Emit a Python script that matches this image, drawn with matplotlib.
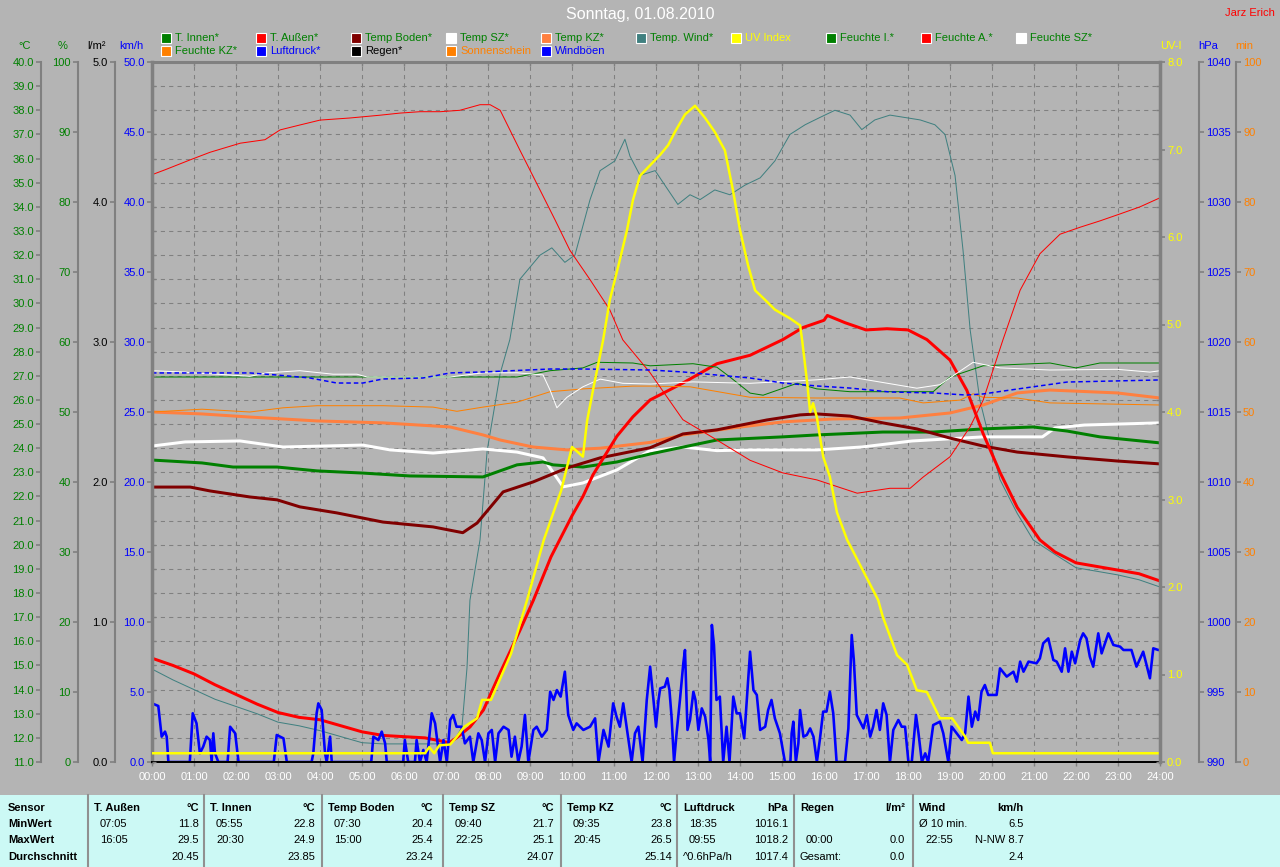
import matplotlib
matplotlib.use("Agg")
import matplotlib.pyplot as plt
from matplotlib.patches import Rectangle
import numpy as np

plt.rcParams['font.family'] = ['Liberation Sans', 'DejaVu Sans']

# ------------------------------------------------------------------ data
TITLE = "Sonntag, 01.08.2010"
AUTHOR = "Jarz Erich"
HOUR_TICKS = list(range(0, 25))
HOUR_LABELS = ["%02d:00" % h for h in HOUR_TICKS]

# °C series (time in hours, value)
T_AUSSEN = [(0, 15.3), (0.5, 15.0), (1, 14.65), (1.5, 14.2), (2, 13.8), (2.5, 13.4), (3, 13.05), (3.5, 12.85),
            (4, 12.75), (4.5, 12.5), (5, 12.25), (5.5, 12.1), (6, 12.05), (6.5, 12.0), (7.08, 11.8), (7.25, 12.0),
            (7.57, 12.45), (7.89, 13.15), (8.29, 14.7), (8.76, 16.45), (9.08, 17.7), (9.5, 19.5), (10.0, 21.2),
            (10.26, 22.0), (10.5, 22.9), (11.07, 24.5), (11.45, 25.3), (11.86, 26.0), (12.64, 26.7), (13.45, 27.5),
            (14.24, 27.85), (15.02, 28.5), (15.5, 29.0), (16.0, 29.3), (16.08, 29.5), (16.5, 29.2), (17.0, 28.9),
            (17.5, 28.95), (18.0, 28.9), (18.45, 28.5), (19.0, 27.65), (19.4, 26.4), (19.79, 24.6), (20.19, 23.0),
            (20.6, 21.55), (21.14, 20.2), (21.5, 19.7), (22.0, 19.25), (22.5, 19.1), (23.0, 18.95), (23.5, 18.8),
            (24.0, 18.5)]
TEMP_WIND = [(0, 14.85), (0.5, 14.4), (1, 14.0), (1.5, 13.6), (2, 13.3), (2.5, 13.0), (3, 12.65), (3.5, 12.5),
             (4, 12.3), (4.5, 12.05), (5, 11.8), (5.5, 11.75), (6, 11.75), (6.5, 11.75), (7.0, 11.75), (7.2, 11.9),
             (7.38, 12.45), (7.5, 14.9), (7.57, 17.7), (7.81, 20.2), (7.98, 23.9), (8.29, 27.1), (8.52, 28.5),
             (8.76, 31.0), (9.24, 32.0), (9.52, 32.3), (9.83, 31.7), (10.07, 32.0), (10.43, 34.3), (10.67, 35.5),
             (11.02, 35.9), (11.26, 36.8), (11.38, 36.1), (11.62, 35.3), (11.98, 35.5), (12.21, 34.9), (12.52, 34.1),
             (12.81, 34.5), (13.05, 34.3), (13.4, 34.7), (13.76, 34.5), (14.12, 34.9), (14.48, 35.2), (14.83, 35.9),
             (15.19, 37.0), (15.55, 37.4), (15.9, 37.7), (16.26, 38.0), (16.62, 37.8), (16.9, 37.2), (17.21, 37.6),
             (17.57, 37.8), (17.93, 37.7), (18.29, 37.6), (18.64, 37.4), (18.88, 37.0), (19.12, 35.3), (19.31, 32.2),
             (19.48, 28.9), (19.71, 26.0), (19.95, 24.3), (20.19, 22.7), (20.6, 21.3), (20.98, 20.2), (21.5, 19.6),
             (22.0, 19.05), (22.5, 18.9), (23.0, 18.75), (23.5, 18.55), (24.0, 18.25)]
TEMP_SZ = [(0, 24.09), (0.79, 24.26), (2.1, 24.3), (3.12, 24.05), (5.02, 24.13), (5.67, 23.93), (6.69, 23.8),
           (7.88, 23.97), (8.69, 23.84), (9.31, 23.6), (9.79, 22.4), (10.26, 22.56), (11.07, 23.1), (11.86, 23.9),
           (12.64, 24.05), (13.45, 23.9), (14.24, 23.93), (15.83, 23.93), (16.9, 24.05), (18.1, 24.3),
           (19.79, 24.47), (21.2, 24.47), (21.5, 24.84), (22.2, 24.96), (23.0, 25.0), (24.0, 25.05)]
T_INNEN = [(0, 23.51), (1.19, 23.39), (1.93, 23.22), (2.98, 23.22), (3.93, 23.06), (5.02, 22.97), (6.14, 22.85),
           (7.88, 22.81), (8.69, 23.31), (9.31, 23.43), (9.55, 23.31), (10.26, 23.22), (11.07, 23.43),
           (11.86, 23.76), (13.45, 24.34), (15.02, 24.47), (15.83, 24.55), (17.4, 24.67), (18.6, 24.67),
           (19.79, 24.8), (20.98, 24.88), (21.79, 24.71), (22.57, 24.47), (24.0, 24.22)]
TEMP_BODEN = [(0, 22.39), (0.91, 22.39), (1.38, 22.23), (2.33, 21.98), (2.98, 21.86), (3.52, 21.57), (4.4, 21.32),
              (5.5, 20.94), (6.69, 20.74), (7.4, 20.5), (7.74, 20.9), (8.36, 22.19), (9.07, 22.6), (9.88, 23.18),
              (10.67, 23.6), (11.86, 24.02), (12.64, 24.59), (13.45, 24.76), (14.64, 25.17), (15.43, 25.38),
              (15.83, 25.42), (16.62, 25.33), (17.4, 25.05), (18.21, 24.8), (19.0, 24.42), (19.79, 24.09),
              (20.6, 23.84), (21.79, 23.64), (22.98, 23.47), (24.0, 23.35)]
TEMP_KZ = [(0, 25.5), (1.19, 25.42), (2.33, 25.29), (3.93, 25.13), (5.5, 25.05), (7.1, 24.88), (7.88, 24.55),
           (8.29, 24.34), (9.07, 24.05), (9.88, 23.93), (10.67, 24.0), (11.86, 24.24), (12.64, 24.55),
           (13.83, 24.84), (15.02, 25.09), (16.21, 25.21), (17.8, 25.25), (19.0, 25.46), (19.79, 25.79),
           (20.6, 26.29), (21.38, 26.41), (22.98, 26.29), (24.0, 26.08)]

# % series
FEUCHTE_A = [(0, 83.9), (0.31, 84.6), (0.9, 86.0), (1.38, 87.1), (2.1, 88.4), (2.69, 88.9), (3.05, 90.3),
             (3.52, 91.0), (4.0, 91.7), (4.71, 92.0), (5.43, 92.4), (5.9, 92.7), (6.38, 92.9), (6.86, 92.9),
             (7.33, 93.1), (7.81, 93.9), (8.05, 93.9), (8.29, 93.1), (8.76, 87.4), (9.24, 81.7), (9.6, 77.4),
             (9.95, 73.1), (10.43, 68.9), (10.9, 64.6), (11.21, 60.3), (11.86, 55.6), (12.64, 48.9), (13.45, 46.0),
             (14.24, 43.1), (15.02, 41.3), (15.83, 40.3), (16.79, 38.4), (17.57, 39.1), (18.05, 39.1),
             (18.36, 40.7), (19.0, 43.6), (19.48, 47.9), (19.79, 51.7), (20.26, 60.3), (20.67, 67.4),
             (21.14, 72.6), (21.62, 75.4), (22.1, 76.4), (22.57, 77.3), (23.05, 78.3), (23.52, 79.3), (24.0, 80.6)]
FEUCHTE_KZ = [(0, 50.0), (1.19, 50.4), (2.33, 50.0), (3.12, 50.6), (3.93, 50.9), (5.5, 50.9), (6.69, 50.7),
              (7.26, 50.1), (7.88, 50.7), (8.69, 51.4), (9.48, 52.9), (10.26, 53.3), (11.45, 53.7), (11.86, 53.7),
              (12.81, 53.6), (14.24, 52.1), (15.83, 52.0), (17.8, 52.0), (18.36, 51.3), (19.24, 51.7),
              (19.55, 52.6), (19.79, 52.1), (20.6, 52.0), (21.38, 51.3), (24.0, 51.0)]
FEUCHTE_I = [(0, 55.0), (8.69, 55.0), (9.48, 55.9), (10.26, 56.3), (10.6, 57.1), (11.45, 57.0), (11.86, 56.6),
             (12.88, 56.9), (13.45, 56.4), (13.76, 55.0), (14.24, 52.7), (14.55, 52.4), (15.36, 54.1),
             (15.83, 53.3), (16.62, 52.9), (18.6, 52.9), (19.0, 55.0), (19.79, 56.6), (21.38, 57.0), (22.0, 56.3),
             (22.57, 57.0), (24.0, 57.0)]
FEUCHTE_SZ = [(0, 55.9), (0.79, 55.7), (0.95, 55.6), (1.55, 55.4), (2.33, 55.1), (2.74, 55.6), (3.52, 55.9),
              (4.31, 55.4), (4.88, 55.4), (5.12, 55.0), (7.1, 55.0), (7.88, 55.6), (8.69, 55.6), (9.31, 55.3),
              (9.48, 53.1), (9.64, 50.6), (9.88, 52.1), (10.26, 53.6), (10.67, 54.7), (11.21, 54.1), (11.86, 54.0),
              (12.88, 54.3), (14.24, 54.1), (15.83, 54.6), (16.62, 55.0), (18.21, 53.4), (18.76, 53.9),
              (19.55, 57.1), (20.19, 56.3), (21.38, 56.0), (22.98, 56.1), (23.76, 55.7), (24.0, 55.9)]

# hPa
LUFTDRUCK = [(0, 1017.79), (1.55, 1017.79), (2.33, 1017.79), (2.98, 1017.64), (3.76, 1017.43), (4.4, 1017.07),
             (5.02, 1017.07), (5.5, 1017.36), (6.45, 1017.43), (7.1, 1017.79), (7.88, 1017.86), (9.48, 1018.07),
             (10.26, 1018.07), (11.86, 1018.0), (12.64, 1017.86), (13.45, 1017.64), (14.24, 1017.43),
             (15.02, 1017.07), (15.83, 1016.86), (16.62, 1016.71), (17.57, 1016.43), (18.6, 1016.36),
             (19.4, 1016.21), (19.79, 1016.29), (20.6, 1016.64), (21.79, 1017.14), (24.0, 1017.29)]

# UV index
UV_INDEX = [(0, 0.1), (6.5, 0.1), (6.6, 0.17), (6.72, 0.1), (6.84, 0.19), (7.1, 0.2), (7.26, 0.29), (7.43, 0.4),
            (7.74, 0.5), (7.86, 0.71), (8.07, 0.71), (8.55, 1.24), (8.93, 1.85), (9.33, 2.54), (9.74, 3.1),
            (10.0, 3.6), (10.26, 3.49), (10.36, 3.9), (10.5, 4.25), (10.74, 4.82), (10.9, 5.28), (11.14, 5.74),
            (11.31, 6.08), (11.45, 6.42), (11.62, 6.7), (11.86, 6.82), (12.1, 6.94), (12.29, 7.05), (12.45, 7.2),
            (12.69, 7.4), (12.93, 7.5), (13.17, 7.36), (13.4, 7.2), (13.64, 6.99), (13.83, 6.54), (14.0, 6.08),
            (14.19, 5.68), (14.36, 5.39), (14.6, 5.28), (14.83, 5.17), (15.19, 5.07), (15.43, 4.99), (15.48, 4.82),
            (15.6, 4.33), (15.67, 4.0), (15.74, 4.1), (15.83, 3.94), (15.98, 3.49), (16.14, 3.26), (16.31, 2.85),
            (16.55, 2.54), (17.29, 1.85), (17.4, 1.66), (17.74, 1.22), (17.98, 1.11), (18.21, 0.82), (18.45, 0.8),
            (18.76, 0.5), (19.05, 0.5), (19.36, 0.29), (19.43, 0.22), (19.95, 0.22), (20.02, 0.1), (24.0, 0.1)]

# km/h (gusts)
WINDBOEEN = [(0, 4.19), (0.15, 4.0), (0.23, 1.81), (0.31, 2.17), (0.35, 1.81), (0.39, 0), (0.9, 0), (0.97, 3.48),
             (1.06, 2.76), (1.14, 0.62), (1.22, 1.1), (1.3, 1.81), (1.38, 1.57), (1.42, 0), (1.46, 2.05),
             (1.5, 0.62), (1.58, 0), (1.8, 0), (1.86, 2.52), (1.98, 2.05), (2.06, 0), (2.9, 0), (2.97, 1.93),
             (3.13, 1.69), (3.21, 0), (3.8, 0), (3.84, 0.62), (3.92, 3.48), (3.96, 4.19), (4.04, 3.71), (4.12, 0.62),
             (4.16, 0), (4.24, 1.81), (4.28, 0), (5.22, 0), (5.27, 1.81), (5.39, 1.57), (5.47, 2.17), (5.55, 1.33),
             (5.59, 0), (5.98, 0), (6.02, 1.57), (6.1, 0), (6.26, 0), (6.3, 1.57), (6.38, 0), (6.46, 0.86),
             (6.54, 0), (6.66, 3.48), (6.74, 2.76), (6.78, 1.81), (6.86, 0), (6.94, 1.57), (7.02, 0), (7.1, 3.0),
             (7.17, 3.36), (7.25, 2.52), (7.37, 2.52), (7.45, 1.33), (7.57, 1.81), (7.65, 0), (7.77, 2.05),
             (7.85, 1.57), (7.93, 0), (8.01, 2.05), (8.09, 2.29), (8.17, 0), (8.25, 2.05), (8.37, 2.52),
             (8.49, 2.29), (8.56, 0.38), (8.64, 1.81), (8.72, 0), (8.8, 1.1), (8.88, 3.36), (8.96, 0), (9.08, 2.29),
             (9.16, 2.52), (9.28, 1.81), (9.4, 2.29), (9.48, 5.02), (9.56, 4.43), (9.64, 5.14), (9.73, 4.67),
             (9.83, 6.45), (9.91, 3.36), (10.03, 2.29), (10.11, 2.76), (10.27, 2.29), (10.43, 2.52), (10.55, 3.12),
             (10.63, 0), (10.75, 2.29), (10.87, 1.1), (10.98, 4.19), (11.06, 3.24), (11.14, 2.52), (11.22, 4.19),
             (11.3, 2.52), (11.42, 0), (11.5, 2.05), (11.58, 2.52), (11.68, 0), (11.78, 4.43), (11.86, 6.81),
             (11.94, 4.43), (12.0, 2.52), (12.06, 4.43), (12.1, 5.26), (12.21, 5.38), (12.27, 5.98), (12.32, 5.14),
             (12.37, 3.24), (12.43, 0), (12.49, 2.05), (12.57, 4.43), (12.65, 7.05), (12.69, 8.0), (12.75, 2.29),
             (12.81, 3.0), (12.89, 5.02), (12.94, 4.43), (13.01, 2.29), (13.09, 3.83), (13.17, 3.24), (13.25, 1.57),
             (13.29, 0), (13.33, 9.79), (13.38, 8.36), (13.44, 4.43), (13.52, 4.67), (13.6, 0), (13.68, 2.52),
             (13.75, 0), (13.84, 4.67), (13.92, 3.48), (14.0, 3.48), (14.1, 1.69), (14.24, 7.88), (14.32, 5.14),
             (14.4, 4.79), (14.48, 2.29), (14.6, 2.52), (14.67, 3.71), (14.75, 4.43), (14.83, 3.12), (14.95, 2.05),
             (15.07, 0), (15.2, 0), (15.23, 2.05), (15.27, 2.88), (15.33, 0), (15.39, 1.33), (15.43, 3.71),
             (15.51, 1.81), (15.59, 1.93), (15.67, 2.4), (15.75, 1.81), (15.83, 0), (15.9, 1.57), (15.98, 3.6),
             (16.06, 3.6), (16.14, 5.02), (16.22, 3.48), (16.3, 0), (16.5, 0), (16.58, 2.4), (16.66, 9.07),
             (16.71, 7.29), (16.78, 3.36), (16.94, 2.4), (17.02, 3.36), (17.1, 1.81), (17.17, 2.52), (17.25, 3.71),
             (17.33, 2.29), (17.41, 4.19), (17.49, 3.36), (17.57, 0), (17.65, 2.29), (17.77, 3.0), (17.85, 2.52),
             (17.93, 2.52), (18.01, 0), (18.09, 0), (18.19, 3.36), (18.25, 2.05), (18.33, 0), (18.41, 0.62),
             (18.48, 0), (18.6, 2.64), (18.76, 2.88), (18.84, 2.05), (18.96, 0), (19.04, 2.52), (19.16, 2.05),
             (19.28, 1.57), (19.36, 2.05), (19.44, 4.67), (19.52, 2.52), (19.6, 3.6), (19.67, 3.0), (19.75, 5.02),
             (19.83, 5.5), (19.91, 4.79), (20.11, 4.79), (20.19, 6.69), (20.35, 6.1), (20.51, 6.45), (20.59, 5.74),
             (20.67, 7.17), (20.75, 6.45), (20.87, 7.17), (21.06, 7.05), (21.14, 7.4), (21.22, 8.48), (21.34, 8.83),
             (21.46, 7.29), (21.54, 7.17), (21.66, 6.45), (21.74, 8.12), (21.82, 6.45), (21.9, 7.88), (21.98, 7.05),
             (22.1, 8.71), (22.17, 9.19), (22.25, 8.83), (22.33, 7.52), (22.41, 6.81), (22.53, 9.19), (22.61, 7.76),
             (22.77, 9.19), (22.89, 8.36), (23.05, 8.24), (23.13, 8.0), (23.32, 8.0), (23.44, 6.81), (23.6, 7.88),
             (23.76, 5.98), (23.84, 8.12), (23.96, 8.0), (24.0, 8.0)]

REGEN = [(0, 0.0), (24, 0.0)]
SONNENSCHEIN = [(0, 0.0), (24, 0.0)]

# legend entries: (label, square colour, text colour)
LEGEND_ROW1 = [("T. Innen*", "#008000", "#008000"), ("T. Außen*", "#FF0000", "#008000"),
               ("Temp Boden*", "#800000", "#008000"), ("Temp SZ*", "#FFFFFF", "#008000"),
               ("Temp KZ*", "#FF8040", "#008000"), ("Temp. Wind*", "#408080", "#008000"),
               ("UV Index", "#FFFF00", "#FFFF00"), ("Feuchte I.*", "#008000", "#008000"),
               ("Feuchte A.*", "#FF0000", "#008000"), ("Feuchte SZ*", "#FFFFFF", "#008000")]
LEGEND_ROW2 = [("Feuchte KZ*", "#FF8000", "#008000"), ("Luftdruck*", "#0000FF", "#0000FF"),
               ("Regen*", "#000000", "#000000"), ("Sonnenschein", "#FF8000", "#FF8000"),
               ("Windböen", "#0000FF", "#0000FF")]

# statistics table
TABLE_ROW_LABELS = ["Sensor", "MinWert", "MaxWert", "Durchschnitt"]
TABLE_HEADERS = [("T. Außen", "°C"), ("T. Innen", "°C"), ("Temp Boden", "°C"), ("Temp SZ", "°C"),
                 ("Temp KZ", "°C"), ("Luftdruck", "hPa"), ("Regen", "l/m²"), ("Wind", "km/h")]
TABLE_CELLS = [
    [("07:05", "11.8"), ("16:05", "29.5"), ("", "20.45")],
    [("05:55", "22.8"), ("20:30", "24.9"), ("", "23.85")],
    [("07:30", "20.4"), ("15:00", "25.4"), ("", "23.24")],
    [("09:40", "21.7"), ("22:25", "25.1"), ("", "24.07")],
    [("09:35", "23.8"), ("20:45", "26.5"), ("", "25.14")],
    [("18:35", "1016.1"), ("09:55", "1018.2"), ("^0.6hPa/h", "1017.4")],
    [("", ""), ("00:00", "0.0"), ("Gesamt:", "0.0")],
    [("Ø 10 min.", "6.5"), ("22:55", "N-NW 8.7"), ("", "2.4")],
]

# ------------------------------------------------------------------ style
BG = "#B4B4B4"
GRAY = "#808080"
GREEN = "#008000"
BLUE = "#0000FF"
YELLOW = "#FFFF00"
ORANGE = "#FF8000"
RED = "#FF0000"
W, H = 1280, 867
PL, PR, PT, PB = 152, 1160, 62, 762
RECT = [PL / W, 1 - PB / H, (PR - PL) / W, (PB - PT) / H]
PX = 0.72  # points per pixel at 100 dpi


def xy(series):
    t, v = zip(*series)
    return np.array(t), np.array(v)


fig = plt.figure(figsize=(W / 100, H / 100), dpi=100, facecolor=BG)

# main °C axis
ax = fig.add_axes(RECT, facecolor=BG)
ax.set_xlim(0, 24)


def style_y(a, side, pos, lim, ticks, fmt, color):
    a.set_ylim(*lim)
    for s in a.spines.values():
        s.set_visible(False)
    sp = a.spines[side]
    sp.set_visible(True)
    sp.set_position(("axes", pos))
    sp.set_color(GRAY)
    sp.set_linewidth(1.5)
    a.yaxis.set_ticks_position(side)
    a.set_yticks(ticks)
    a.set_yticklabels([fmt % t for t in ticks])
    a.tick_params(axis="y", direction="out", length=5 * PX, width=1.2, color=GRAY,
                  labelcolor=color, labelsize=8, pad=1.5)


style_y(ax, "left", (41 - PL) / (PR - PL), (11, 40), np.arange(11, 41, 1), "%.1f", GREEN)
ax.set_xticks(HOUR_TICKS)
ax.set_xticklabels(HOUR_LABELS)
ax.tick_params(axis="x", direction="out", length=4 * PX, width=1, color=GRAY, labelcolor="white",
               labelsize=8, pad=4.5)
ax.grid(True, color=GRAY, linestyle=(0, (4, 4)), linewidth=0.75)
ax.set_axisbelow(True)

THICK = 3 * PX
THIN = 1 * PX
for series, col, lw in [(TEMP_WIND, "#408080", THIN), (TEMP_KZ, "#FF8040", THICK),
                        (TEMP_SZ, "#FFFFFF", THICK), (T_INNEN, "#008000", THICK),
                        (TEMP_BODEN, "#800000", THICK), (T_AUSSEN, RED, THICK)]:
    t, v = xy(series)
    ax.plot(t, v, color=col, lw=lw)

# humidity %
ax_p = ax.twinx()
style_y(ax_p, "left", (78 - PL) / (PR - PL), (0, 100), np.arange(0, 101, 10), "%d", GREEN)
for series, col in [(FEUCHTE_KZ, ORANGE), (FEUCHTE_I, GREEN), (FEUCHTE_SZ, "#FFFFFF"), (FEUCHTE_A, RED)]:
    t, v = xy(series)
    ax_p.plot(t, v, color=col, lw=THIN)

# pressure hPa
ax_h = ax.twinx()
style_y(ax_h, "right", (1199 - PL) / (PR - PL), (990, 1040), np.arange(990, 1041, 5), "%d", BLUE)
t, v = xy(LUFTDRUCK)
ax_h.plot(t, v, color=BLUE, lw=1.5 * PX, linestyle=(0, (3, 2)))

# sunshine min
ax_m = ax.twinx()
style_y(ax_m, "right", (1236 - PL) / (PR - PL), (0, 100), np.arange(0, 101, 10), "%d", ORANGE)
t, v = xy(SONNENSCHEIN)
ax_m.plot(t, v, color=ORANGE, lw=THIN, clip_on=False)

# gusts km/h
ax_k = ax.twinx()
style_y(ax_k, "left", 0.0, (0, 50), np.arange(0, 51, 5), "%.1f", BLUE)
ax_k.spines["left"].set_linewidth(2.5)
t, v = xy(WINDBOEEN)
ax_k.plot(t, v, color=BLUE, lw=2.6 * PX)

# rain l/m²
ax_l = ax.twinx()
style_y(ax_l, "left", (115 - PL) / (PR - PL), (0, 5), np.arange(0, 5.1, 1), "%.1f", "black")
t, v = xy(REGEN)
ax_l.plot(t, v, color="black", lw=2 * PX, clip_on=False)

# UV
ax_u = ax.twinx()
style_y(ax_u, "right", 1.0, (0, 8), np.arange(0, 8.1, 1), "%.1f", YELLOW)
ax_u.spines["right"].set_linewidth(2.5)
t, v = xy(UV_INDEX)
ax_u.plot(t, v, color=YELLOW, lw=2.5 * PX)

# frame with inner ticks
fr = fig.add_axes(RECT, facecolor="none")
fr.set_xlim(0, 24)
fr.set_ylim(11, 40)
for s in fr.spines.values():
    s.set_visible(False)
fr.spines["top"].set_visible(True)
fr.spines["top"].set_color(GRAY)
fr.spines["top"].set_linewidth(2.2)
fr.set_xticks(HOUR_TICKS)
fr.set_yticks(np.arange(11, 41, 1))
fr.xaxis.set_ticks_position("top")
fr.yaxis.set_ticks_position("both")
fr.tick_params(axis="both", direction="in", length=4 * PX, width=1, color=GRAY,
               labelleft=False, labelright=False, labeltop=False, labelbottom=False)

# ------------------------------------------------------------------ overlay (pixel coordinates)
ov = fig.add_axes([0, 0, 1, 1], facecolor="none")
ov.set_xlim(0, W)
ov.set_ylim(H, 0)
ov.axis("off")

ov.text(640, 14, TITLE, color="white", fontsize=11.5, ha="center", va="center")
ov.text(1250, 13, AUTHOR, color=RED, fontsize=8, ha="center", va="center")

for row, ypos in [(LEGEND_ROW1, 38), (LEGEND_ROW2, 51)]:
    for i, (lab, sq, tc) in enumerate(row):
        tx = 175 + 95 * i
        ov.add_patch(Rectangle((tx - 14, ypos - 5), 10, 10, facecolor=sq, edgecolor="white", lw=0.8))
        ov.text(tx, ypos, lab, color=tc, fontsize=8, ha="left", va="center")

for lab, xc, col in [("°C", 25, GREEN), ("%", 63, GREEN), ("l/m²", 97, "black"), ("km/h", 131, BLUE),
                     ("UV-I", 1171, YELLOW), ("hPa", 1208, BLUE), ("min", 1244, ORANGE)]:
    ov.text(xc, 46, lab, color=col, fontsize=8, ha="center", va="center")

# table
TOP = 795
ov.add_patch(Rectangle((0, TOP), W, H - TOP, facecolor="#CCF9F5", edgecolor="none"))
COL_STARTS = [88, 204, 322, 443, 561, 677, 794, 913]
ROW_Y = [808, 824, 840, 857]
FS = 8
for cs in COL_STARTS:
    ov.plot([cs, cs], [TOP, H], color="#909090", lw=1.5)
for r, lab in enumerate(TABLE_ROW_LABELS):
    ov.text(8, ROW_Y[r], lab, fontsize=FS, fontweight="bold", ha="left", va="center", color="black")
for c, cs in enumerate(COL_STARTS):
    name, unit = TABLE_HEADERS[c]
    ov.text(cs + 6, ROW_Y[0], name, fontsize=FS, fontweight="bold", ha="left", va="center")
    ov.text(cs + 111, ROW_Y[0], unit, fontsize=FS, fontweight="bold", ha="right", va="center")
    for r, (left, right) in enumerate(TABLE_CELLS[c]):
        lx = cs + (12 if left[:1].isdigit() else 6)
        ov.text(lx, ROW_Y[r + 1], left, fontsize=FS, ha="left", va="center")
        ov.text(cs + 111, ROW_Y[r + 1], right, fontsize=FS, ha="right", va="center")

fig.savefig("out.png", dpi=100, facecolor=BG)
